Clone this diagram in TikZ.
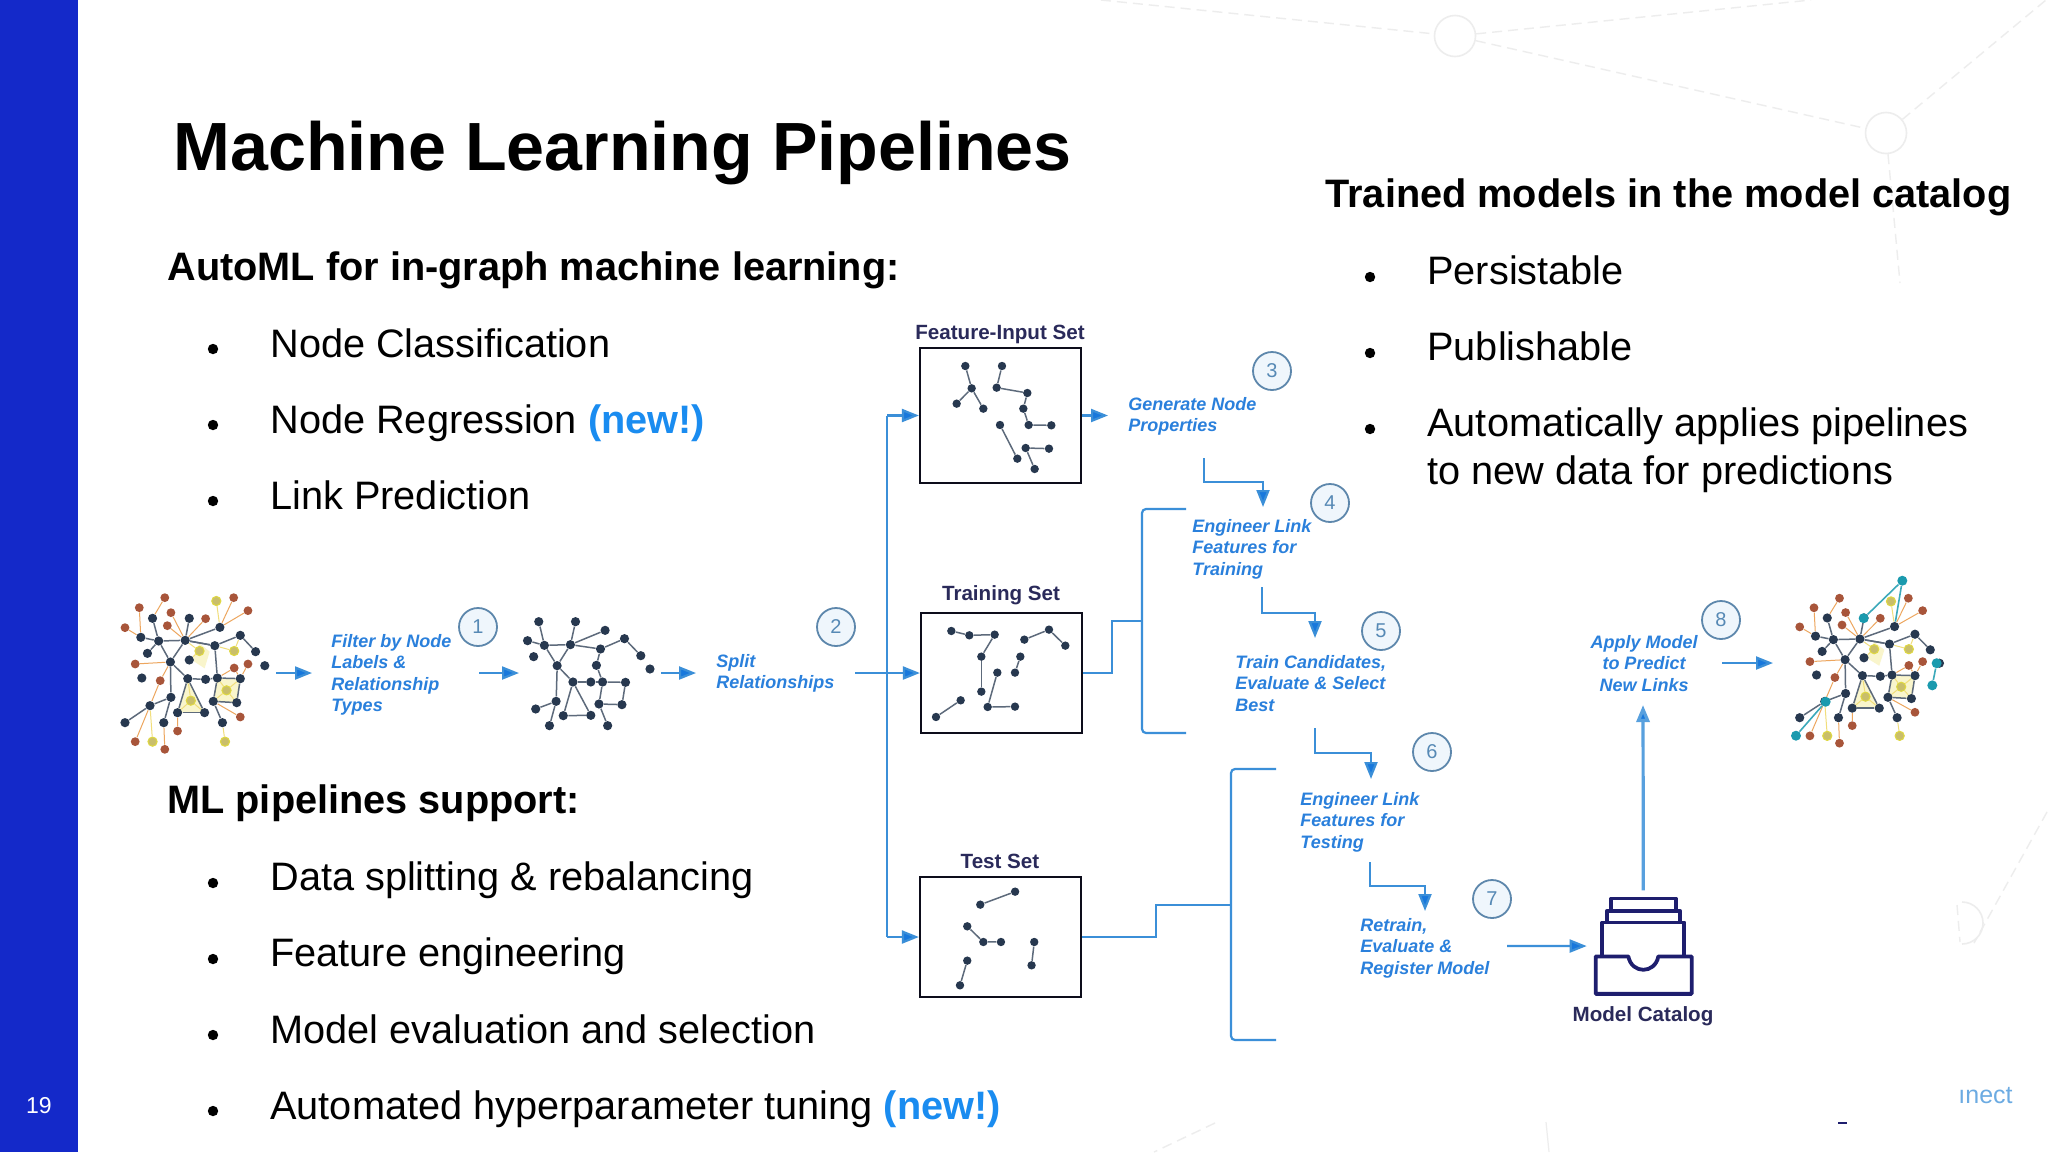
\documentclass[tikz,border=0pt]{standalone}
\usepackage{fontspec}
\setmainfont{Liberation Sans}
\usetikzlibrary{arrows.meta}
\definecolor{sidebar}{HTML}{1429C9}
\definecolor{newblue}{HTML}{1A8CF0}
\definecolor{stepblue}{HTML}{2A80DC}
\definecolor{connblue}{HTML}{3B8FD8}
\definecolor{tipblue}{HTML}{1878DC}
\definecolor{navy}{HTML}{2A2A5A}
\definecolor{trayblue}{HTML}{1E1E6E}
\definecolor{dotdark}{HTML}{27384F}
\definecolor{dotred}{HTML}{A8553A}
\definecolor{dotyel}{HTML}{C9BE6A}
\definecolor{paleyel}{HTML}{F9F5CC}
\definecolor{tealc}{HTML}{1A9AAE}
\definecolor{faint}{HTML}{EDEDED}
\tikzset{
  hd/.style={anchor=base west,inner sep=0pt,font=\fontsize{19.85}{24}\selectfont\bfseries,text=black},
  bd/.style={anchor=base west,inner sep=0pt,font=\fontsize{19.85}{24}\selectfont,text=black},
  bul/.style={circle,fill=black,inner sep=0pt,minimum size=5.2pt},
  steplbl/.style={anchor=north west,inner sep=0pt,align=left,text=stepblue,font=\fontsize{9}{10.75}\selectfont\bfseries\itshape},
  setlab/.style={anchor=base,inner sep=0pt,text=navy,font=\fontsize{10.3}{12}\selectfont\bfseries},
  num/.style={circle,draw=connblue!50!gray,fill=connblue!8,line width=0.9pt,minimum size=19pt,inner sep=0pt,text=connblue!60!gray,font=\fontsize{10}{12}\selectfont},
  setbox/.style={draw=black!70!navy,line width=1.1pt,fill=white,inner sep=0pt},
  conn/.style={draw=connblue,line width=1.1pt},
  arr/.style={conn,-{Triangle[length=8.5pt,width=6.5pt,fill=tipblue]}},
  gdot/.style={circle,fill=dotdark,inner sep=0pt,minimum size=4.6pt},
  gsm/.style={circle,fill=dotdark,inner sep=0pt,minimum size=4.2pt},
  rdot/.style={circle,fill=dotred,inner sep=0pt,minimum size=4.4pt},
  ydot/.style={circle,fill=dotyel,draw=dotyel!60!yellow,line width=0.5pt,inner sep=0pt,minimum size=4.6pt},
  tdot/.style={circle,fill=tealc,inner sep=0pt,minimum size=5pt},
  gedge/.style={draw=dotdark!75,line width=0.75pt},
  oedge/.style={draw=orange!60!brown!70,line width=0.5pt},
  yedge/.style={draw=yellow!60!brown!60,line width=0.5pt},
  tedge/.style={draw=tealc!85,line width=0.8pt},
  bg/.style={draw=faint,line width=0.7pt,dash pattern=on 5pt off 3pt},
  bgc/.style={draw=faint,line width=0.8pt},
  tray/.style={draw=trayblue,line width=1.9pt,line join=round},
  paleyfill/.style={fill=paleyel}
}
\newcommand{\BigGraph}[1]{%
  \fill[paleyfill] (172,356) -- (152,458) -- (205,458) -- cycle;
  \fill[paleyfill] (230,354) -- (275,356) -- (268,428) -- (222,424) -- cycle;
  \fill[paleyfill] (195,250) -- (215,275) -- (205,325) -- (180,300) -- cycle;
  \foreach \n/\x/\y in {1/103/175,2/175/175,3/80/232,4/115/243,5/167/241,6/235/202,7/275/226,8/225/257,9/305/275,10/93/280,11/138/306,12/175/300,13/323/317,14/82/354,15/172/356,16/207/358,17/230/354,18/275/356,19/139/412,20/98/437,21/222/424,22/268/428,23/152/458,24/205/458,25/49/488,26/125/488,27/240/488}
    \node[gdot] (#1d\n) at (\x,\y) {};
  \foreach \n/\x/\y in {a/127/113,b/262/113,c/77/143,d/139/158,e/290/152,f/207/176,g/132/197,h/49/203,i/69/312,j/263/324,k/290/312,l/118/362,m/275/471,n/152/513,o/69/545,p/127/568}
    \node[rdot] (#1r\n) at (\x,\y) {};
  \foreach \n/\x/\y in {q/228/123,r/195/273,s/263/273,t/248/391,u/178/422,v/103/545,w/245/545}
    \node[ydot] (#1y\n) at (\x,\y) {};
  \foreach \a/\b in {d1/d4,d2/d5,d3/d4,d4/d5,d5/d6,d5/d8,d8/d7,d7/d9,d10/d4,d4/d11,d5/d11,d11/d15,d8/d17,d15/d16,d16/d17,d17/d18,d17/d21,d18/d22,d21/d22,d21/d27,d15/d23,d15/d24,d23/d24,d19/d20,d20/d25,d11/d19,d19/d26,d5/d8}
    \draw[gedge] (#1\a) -- (#1\b);
  \foreach \a/\b in {ra/d1,rb/d6,rc/d3,rd/d5,re/d6,rf/d5,rg/d5,rh/d3,ri/d11,rj/d17,rk/d18,rl/d11,rl/d20,rm/d21,rn/d23,ro/d20,rp/d26,rj/d18}
    \draw[oedge] (#1\a) -- (#1\b);
  \foreach \a/\b in {yq/d6,yr/d5,yr/d12,ys/d8,ys/d7,yt/d17,yt/d18,yt/d21,yt/d22,yu/d15,yu/d23,yu/d24,yv/d20,yw/d27}
    \draw[yedge] (#1\a) -- (#1\b);
}
\begin{document}
\begin{tikzpicture}[x=0.5pt,y=-0.5pt]
\useasboundingbox (0,0) rectangle (2048,1152);
\fill[white] (0,0) rectangle (2048,1152);
% faint background network
\coordinate (bA) at (1101,0); \coordinate (bB) at (1811,0); \coordinate (bC) at (2046,0);
\coordinate (bD) at (1900,283); \coordinate (bE) at (2047,812); \coordinate (bF) at (1957,905);
\node[circle,bgc,fill=none,minimum size=20.5pt,inner sep=0pt] (bc1) at (1455,36) {};
\node[circle,bgc,fill=none,minimum size=20.5pt,inner sep=0pt] (bc2) at (1886,133) {};
\draw[bg] (bA) -- (bc1); \draw[bg] (bc1) -- (bB); \draw[bg] (bc1) -- (bc2);
\draw[bg] (bc2) -- (bC); \draw[bg] (bc2) -- (bD);
\coordinate (bG) at (1960,942); \coordinate (bH) at (1974,943);
\draw[bg] (bF) -- (bG); \draw[bg] (bE) -- (bH);
\draw[bgc] (1962,944) arc[start angle=90,end angle=-90,radius=21];
\coordinate (bI) at (1215,1123); \coordinate (bJ) at (1154,1152);
\coordinate (bK) at (1546,1122); \coordinate (bL) at (1549,1152);
\draw[bg] (bI) -- (bJ); \draw[faint,line width=0.6pt] (bK) -- (bL);
% sidebar
\fill[sidebar] (0,0) rectangle (78,1152);
\node[anchor=base,inner sep=0pt,text=white,font=\fontsize{11.5}{14}\selectfont] (pg) at (39,1113) {19};
% left and right text
\node[anchor=base west,inner sep=0pt,font=\fontsize{34.1}{40}\selectfont\bfseries] (title) at (173,170) {Machine Learning Pipelines};
\node[hd] (h1) at (167,280) {AutoML for in-graph machine learning:};
\node[bul] (b1) at (213,349) {}; \node[bd] (t1) at (270,357) {Node Classification};
\node[bul] (b2) at (213,425) {}; \node[bd] (t2) at (270,433) {Node Regression \textcolor{newblue}{\bfseries(new!)}};
\node[bul] (b3) at (213,501) {}; \node[bd] (t3) at (270,509) {Link Prediction};
\node[hd] (h2) at (167,813) {ML pipelines support:};
\node[bul] (b4) at (213,883) {}; \node[bd] (t4) at (270,890) {Data splitting \& rebalancing};
\node[bul] (b5) at (213,959) {}; \node[bd] (t5) at (270,966) {Feature engineering};
\node[bul] (b6) at (213,1035) {}; \node[bd] (t6) at (270,1043) {Model evaluation and selection};
\node[bul] (b7) at (213,1111) {}; \node[bd] (t7) at (270,1119) {Automated hyperparameter tuning \textcolor{newblue}{\bfseries(new!)}};
\node[hd] (h3) at (1325,207) {Trained models in the model catalog};
\node[bul] (b8) at (1370,277) {}; \node[bd] (t8) at (1427,284) {Persistable};
\node[bul] (b9) at (1370,353) {}; \node[bd] (t9) at (1427,360) {Publishable};
\node[bul] (b10) at (1370,429) {}; \node[bd] (t10) at (1427,436) {Automatically applies pipelines};
\node[bd] (t11) at (1427,484) {to new data for predictions};
% boxes
\node[setbox,minimum width=80.5pt,minimum height=67.5pt] (fbox) at (1000.5,415.5) {};
\node[setbox,minimum width=80.5pt,minimum height=60pt] (tbox) at (1001.5,673) {};
\node[setbox,minimum width=80.5pt,minimum height=60pt] (sbox) at (1000.5,937) {};
\node[setlab] (fl) at (1000,339) {Feature-Input Set};
\node[setlab] (tl) at (1001,600) {Training Set};
\node[setlab] (sl) at (1000,868) {Test Set};
% big graph left
\begin{scope}[shift={(100,560)},xscale=0.5102,yscale=0.3333]
\BigGraph{L}
\end{scope}
% big graph right
\begin{scope}[shift={(1774.7,562.2)},xscale=0.51,yscale=0.3186]
\BigGraph{R}
\end{scope}
% predicted links
\begin{scope}[shift={(1500,560)},xscale=0.3333,yscale=0.3571]
\foreach \n/\x/\y in {1/1207/58,2/1091/163,3/1310/289,4/1297/351,5/977/397,6/888/492}
  \node[tdot] (pl\n) at (\x,\y) {};
\draw[tedge] (pl1) -- (pl2);
\draw[tedge] (pl3) -- (pl4);
\draw[tedge] (pl5) -- (pl6);
\draw[tedge] (pl1) -- (Rd6);
\end{scope}
% middle graph
\begin{scope}[shift={(100,560)},xscale=0.5102,yscale=0.3333]
\foreach \n/\x/\y in {a/860/185,b/932/185,c/990/211,d/838/242,e/871/256,f/922/254,g/981/267,h/1028/236,i/1060/287,j/1078/327,k/850/290,l/896/317,m/973/316,n/927/366,o/962/366,p/985/366,q/1030/367,r/894/424,s/854/447,t/908/467,u/962/466,v/978/432,w/1023/434,x/881/497,y/995/497}
  \node[gdot] (m\n) at (\x,\y) {};
\foreach \a/\b in {a/e,b/f,c/f,d/e,e/f,f/g,g/h,h/i,e/l,f/l,l/n,g/m,m/p,n/o,o/p,p/q,q/w,p/v,v/w,v/y,n/t,n/u,t/u,r/s,l/r,r/x}
  \draw[gedge] (m\a) -- (m\b);
\end{scope}
% feature graph
\begin{scope}[shift={(880,300)},xscale=0.3333,yscale=0.3333]
\foreach \n/\x/\y in {1/256/198,2/275/265,3/230/311,4/310/326,5/366/198,6/350/263,7/442/279,8/430/326,9/446/375,10/514/376,11/360/375,12/412/476,13/437/444,14/507/446,15/464/507}
  \node[gsm] (f\n) at (\x,\y) {};
\foreach \a/\b in {1/2,2/3,2/4,5/6,6/7,7/8,8/9,9/10,11/12,13/14,13/15}
  \draw[gedge] (f\a) -- (f\b);
\foreach \n/\x/\y in {1/214/993,2/268/1006,3/344/1004,4/304/1070,5/304/1175,6/352/1118,7/323/1221,8/405/1220,9/168/1251,10/242/1201,11/405/1118,12/421/1070,13/433/1019,14/507/989,15/556/1037}
  \node[gsm] (g\n) at (\x,\y) {};
\foreach \a/\b in {1/2,2/3,3/4,4/5,6/7,7/8,9/10,11/12,13/14,14/15}
  \draw[gedge] (g\a) -- (g\b);
\end{scope}
% test graph
\begin{scope}[shift={(880,720)},xscale=0.3827,yscale=0.3333]
\foreach \n/\x/\y in {1/262/554,2/353/515,3/228/619,4/270/666,5/316/666,6/403/666,7/396/736,8/228/722,9/209/796}
  \node[gsm] (s\n) at (\x,\y) {};
\foreach \a/\b in {1/2,3/4,4/5,6/7,8/9}
  \draw[gedge] (s\a) -- (s\b);
\end{scope}
% step labels
\node[steplbl] (l1) at (331,634) {Filter by Node\\Labels \&\\Relationship\\Types};
\node[steplbl] (l2) at (716,654) {Split\\Relationships};
\node[steplbl] (l3) at (1128,397) {Generate Node\\Properties};
\node[steplbl] (l4) at (1192,519) {Engineer Link\\Features for\\Training};
\node[steplbl] (l5) at (1235,655) {Train Candidates,\\Evaluate \& Select\\Best};
\node[steplbl] (l6) at (1300,792) {Engineer Link\\Features for\\Testing};
\node[steplbl] (l7) at (1360,918) {Retrain,\\Evaluate \&\\Register Model};
\node[steplbl,anchor=north,align=center] (l8) at (1644,635) {Apply Model\\to Predict\\New Links};
\node[num] (n1) at (478,627) {1};
\node[num] (n2) at (836,627) {2};
\node[num] (n3) at (1272,371) {3};
\node[num] (n4) at (1330,503) {4};
\node[num] (n5) at (1381,631) {5};
\node[num] (n6) at (1432,752) {6};
\node[num] (n7) at (1492,899) {7};
\node[num] (n8) at (1721,620) {8};
% catalog icon
\begin{scope}[shift={(1500,560)},xscale=0.3333,yscale=0.3571]
\draw[tray] (333,982) -- (333,948) -- (527,948) -- (527,982);
\draw[tray] (322,1015) -- (322,982) -- (540,982) -- (540,1015);
\draw[tray] (306,1110) -- (306,1015) -- (553,1015) -- (553,1110);
\draw[tray] (287,1110) -- (385,1110) .. controls (395,1160) and (465,1160) .. (475,1110) -- (575,1110) -- (575,1215) -- (287,1215) -- cycle;
\coordinate (catTop) at (430,925);
\coordinate (catIn) at (260,1081);
\end{scope}
\node[setlab] (catl) at (1643,1021) {Model Catalog};
% connectors
\coordinate (a1s) at (276,673); \coordinate (a1e) at (312,673);
\coordinate (a2s) at (479,673); \coordinate (a2e) at (519,673);
\coordinate (a3s) at (661,673); \coordinate (a3e) at (696,673);
\draw[arr] (a1s) -- (a1e);
\draw[arr] (a2s) -- (a2e);
\draw[arr] (a3s) -- (a3e);
\coordinate (splitOut) at (855,673);
\coordinate (trunkT) at (887,415.5);
\coordinate (trunkB) at (887,937);
\draw[conn] (trunkT) -- (trunkB);
\draw[arr] (trunkT) -- (fbox.west);
\draw[arr] (splitOut) -- (tbox.west);
\draw[arr] (trunkB) -- (sbox.west);
\coordinate (fOut) at (1108,415.5);
\draw[arr] (fbox.east) -- (fOut);
% stepped arrows
\coordinate (k1a) at (1204,458); \coordinate (k1b) at (1204,482); \coordinate (k1c) at (1263,482); \coordinate (k1d) at (1263,507);
\draw[arr] (k1a) -- (k1b) -- (k1c) -- (k1d);
\coordinate (k2a) at (1262,587); \coordinate (k2b) at (1262,613); \coordinate (k2c) at (1315,613); \coordinate (k2d) at (1315,638);
\draw[arr] (k2a) -- (k2b) -- (k2c) -- (k2d);
\coordinate (k3a) at (1315,728); \coordinate (k3b) at (1315,753); \coordinate (k3c) at (1371,753); \coordinate (k3d) at (1371,779);
\draw[arr] (k3a) -- (k3b) -- (k3c) -- (k3d);
\coordinate (k4a) at (1370,862); \coordinate (k4b) at (1370,886); \coordinate (k4c) at (1425,886); \coordinate (k4d) at (1425,911);
\draw[arr] (k4a) -- (k4b) -- (k4c) -- (k4d);
% brackets
\coordinate (br1a) at (1186,509); \coordinate (br1b) at (1142,509); \coordinate (br1c) at (1142,733); \coordinate (br1d) at (1186,733);
\draw[conn,rounded corners=2pt] (br1a) -- (br1b) -- (br1c) -- (br1d);
\coordinate (st1a) at (1112,673); \coordinate (st1b) at (1112,621); \coordinate (st1c) at (1142,621);
\draw[conn] (tbox.east) -- (st1a) -- (st1b) -- (st1c);
\coordinate (br2a) at (1276,769); \coordinate (br2b) at (1231,769); \coordinate (br2c) at (1231,1040); \coordinate (br2d) at (1276,1040);
\draw[conn,rounded corners=2pt] (br2a) -- (br2b) -- (br2c) -- (br2d);
\coordinate (st2a) at (1156,937); \coordinate (st2b) at (1156,905); \coordinate (st2c) at (1231,905);
\draw[conn] (sbox.east) -- (st2a) -- (st2b) -- (st2c);
% catalog arrows
\coordinate (rOut) at (1507,946);
\draw[arr] (rOut) -- (catIn);
\coordinate (apIn) at (1643,705);
\draw[arr,line width=1.6pt,draw=connblue!85] (catTop) -- (apIn);
\coordinate (apOut) at (1722,663); \coordinate (apEnd) at (1773,663);
\draw[arr] (apOut) -- (apEnd);
% footer fragments
\node[anchor=base west,inner sep=0pt,text=connblue!75,font=\fontsize{12.5}{15}\selectfont] (brand) at (1958,1103) {ınect};
\coordinate (dashA) at (1838,1123); \coordinate (dashB) at (1847,1123);
\draw[draw=trayblue,line width=1pt] (dashA) -- (dashB);
\end{tikzpicture}
\end{document}
